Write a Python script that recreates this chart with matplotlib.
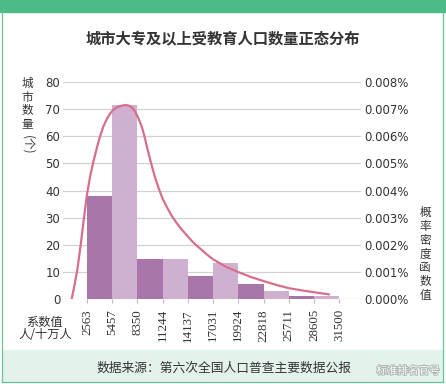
import matplotlib
matplotlib.use("Agg")
import matplotlib.pyplot as plt
import matplotlib.patheffects as pe
from matplotlib.patches import Rectangle
from matplotlib.lines import Line2D
import numpy as np

# histogram bins (people per 100k with college education) and city counts
bin_edges = [2563, 5457, 8350, 11244, 14137, 17031, 19924, 22818, 25711, 28605, 31500]
city_counts = [38, 71.5, 15, 15, 8.6, 13.4, 5.5, 3.1, 1.2, 1.2]

# fitted density curve (density in %)
curve_x = [800, 1120, 1460, 1840, 2220, 2563, 2910, 3290, 3720, 4070, 4440, 4820,
           5200, 5570, 5950, 6330, 6700, 7080, 7450, 7770, 8060, 8350, 8640, 8930,
           9220, 9510, 9800, 10090, 10430, 10810, 11240, 11710, 12260, 12860, 13440,
           14020, 14720, 15530, 16310, 17030, 18480, 19920, 21370, 22820, 24270,
           25710, 27160, 28610, 30340]
curve_pct = [0.0, 0.0005, 0.0011, 0.0020, 0.0030, 0.00385, 0.0045, 0.00505, 0.0056,
             0.0060, 0.00635, 0.00662, 0.00682, 0.00696, 0.00705, 0.0071, 0.00713,
             0.00714, 0.00711, 0.00703, 0.00691, 0.00674, 0.00652, 0.00626, 0.00591,
             0.00552, 0.00515, 0.0048, 0.00442, 0.00406, 0.0037, 0.0034, 0.00308,
             0.0028, 0.00256, 0.00235, 0.0021, 0.00187, 0.00165, 0.00147, 0.0012,
             0.0010, 0.00082, 0.00067, 0.00053, 0.00041, 0.00033, 0.00026, 0.00018]

title = "城市大专及以上受教育人口数量正态分布"
source = "数据来源：第六次全国人口普查主要数据公报"

CJK = ["Noto Sans CJK SC", "DejaVu Sans"]
dark, light = "#a876a8", "#d0b0d0"
green = "#4dbb88"

fig = plt.figure(figsize=(4.46, 3.84), dpi=100)
W, H = 446, 384

# frame: green top band, thin green border, light bottom band
fig.patches.append(Rectangle((0, 1 - 12 / H), 1, 12 / H, transform=fig.transFigure,
                             color=green, zorder=0))
fig.patches.append(Rectangle((2 / W, 2 / H), 441 / W, 32 / H,
                             transform=fig.transFigure, color="#e4f2ec", zorder=0))
for xx in (2 / W, 443 / W):
    fig.lines.append(Line2D([xx, xx], [2 / H, 1 - 12 / H], transform=fig.transFigure,
                            color="#6cc49c", lw=0.9))
fig.lines.append(Line2D([2 / W, 443 / W], [2 / H, 2 / H], transform=fig.transFigure,
                        color="#6cc49c", lw=0.9))

ax = fig.add_axes([63 / W, (H - 299.3) / H, 298 / W, 217.6 / H])
widths = np.diff(bin_edges)
colors = [dark if i % 2 == 0 else light for i in range(len(city_counts))]
ax.bar(bin_edges[:-1], city_counts, width=widths, align="edge", color=colors,
       linewidth=0, zorder=2)
ax.set_xlim(-190, 34000)
ax.set_ylim(0, 80)
ax.set_yticks(range(0, 81, 10))
ax.grid(axis="y", color="#d2d2d2", lw=0.9, zorder=0)
ax.set_axisbelow(True)
for s in ax.spines.values():
    s.set_visible(False)
ax.tick_params(axis="y", length=0, pad=2, labelsize=8.5, labelcolor="#333333")
ax.set_xticks(bin_edges)
ax.set_xticklabels([str(e) for e in bin_edges], rotation=90, family="Liberation Serif",
                   fontsize=9.4, color="#333333")
ax.tick_params(axis="x", length=3, color="#bbbbbb", pad=4)

ax2 = ax.twinx()
ax2.plot(curve_x, curve_pct, color="#d66e8c", lw=1.6, solid_capstyle="round",
         solid_joinstyle="round", zorder=3)
ax2.set_ylim(0, 0.008)
ticks = [i / 1000 for i in range(9)]
ax2.set_yticks(ticks)
ax2.set_yticklabels([f"{t:.3f}%" for t in ticks])
ax2.tick_params(axis="y", length=0, pad=2, labelsize=8.5, labelcolor="#333333")
for s in ax2.spines.values():
    s.set_visible(False)

fig.text(223 / W, 1 - 39 / H, title, ha="center", va="center", family=CJK,
         fontsize=11, fontweight="bold", color="#333333")
fig.text(27.5 / W, 1 - 104 / H, "城\n市\n数\n量", ha="center", va="center",
         family=CJK, fontsize=8.4, linespacing=1.08, color="#333333")
fig.text(27.5 / W, 1 - 145 / H, "(个)", ha="center", va="center", rotation=270,
         family=CJK, fontsize=8.4, color="#333333")
fig.text(425 / W, 1 - 254 / H, "概\n率\n密\n度\n函\n数\n值", ha="center", va="center",
         family=CJK, fontsize=8.4, linespacing=1.08, color="#333333")
fig.text(45 / W, 1 - 328.5 / H, "系数值\n人/十万人", ha="center", va="center",
         family=CJK, fontsize=8.8, linespacing=0.95, color="#333333")
fig.text(224 / W, 1 - 368 / H, source, ha="center", va="center", family=CJK,
         fontsize=9.2, color="#333333")
fig.text(408 / W, 1 - 371 / H, "标准排名官号", ha="center", va="center", family=CJK,
         fontsize=7.6, color="white",
         path_effects=[pe.withStroke(linewidth=1.3, foreground="#a9b5b0")])

fig.savefig("out.png", dpi=100)
